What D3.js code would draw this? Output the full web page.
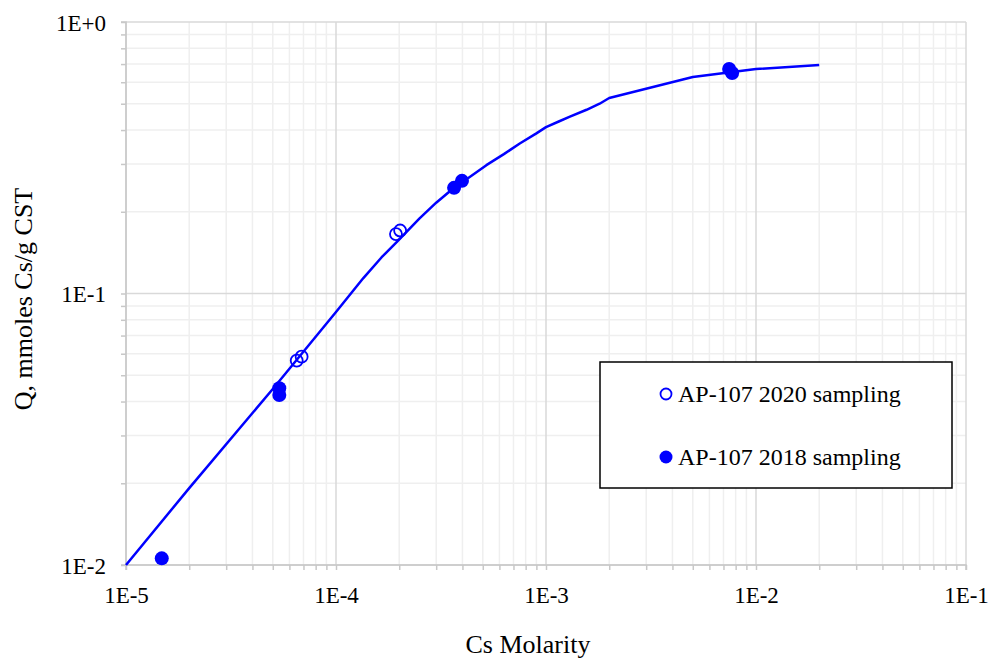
<!DOCTYPE html>
<html><head><meta charset="utf-8">
<script src="https://cdn.jsdelivr.net/npm/d3@7"></script>
<style>body{margin:0;background:#fff}svg{display:block}</style>
</head><body>
<script>
// Data
const curveX = [1e-5, 2e-5, 5e-5, 1e-4, 1.35e-4, 1.65e-4, 1.95e-4, 2.5e-4, 3e-4, 3.6e-4, 4.35e-4, 5.2e-4, 6.3e-4, 7.5e-4, 9e-4, 1e-3, 1.15e-3, 1.3e-3, 1.56e-3, 1.8e-3, 2e-3, 5e-3, 1e-2, 2e-2];
const curveY = [0.01, 0.0192, 0.0445, 0.0855, 0.114, 0.136, 0.155, 0.189, 0.216, 0.243, 0.269, 0.297, 0.326, 0.357, 0.389, 0.41, 0.43, 0.448, 0.475, 0.5, 0.525, 0.627, 0.671, 0.695];
const open2020X = [6.5e-5, 6.86e-5, 1.93e-4, 2.02e-4];
const open2020Y = [0.0566, 0.0585, 0.1656, 0.1706];
const filled2018X = [1.48e-5, 5.37e-5, 5.37e-5, 3.65e-4, 3.98e-4, 7.45e-3, 7.7e-3];
const filled2018Y = [0.01058, 0.0448, 0.0423, 0.245, 0.26, 0.671, 0.649];
const xTickVals = [1e-5, 1e-4, 1e-3, 1e-2, 1e-1];
const xTickLabels = ["1E-5", "1E-4", "1E-3", "1E-2", "1E-1"];
const yTickVals = [1e-2, 1e-1, 1];
const yTickLabels = ["1E-2", "1E-1", "1E+0"];
const legendLabels = ["AP-107 2020 sampling", "AP-107 2018 sampling"];
const xTitle = "Cs Molarity";
const yTitle = "Q, mmoles Cs/g CST";

const W = 991, H = 658;
const L = 126, R = 966, T = 22, B = 565;
const font = "'Liberation Serif', 'Times New Roman', serif";
const blue = "#0000ff";

const svg = d3.select("body").append("svg").attr("width", W).attr("height", H);
const x = d3.scaleLog().domain([1e-5, 1e-1]).range([L, R]);
const y = d3.scaleLog().domain([1e-2, 1]).range([B, T]);

// minor values
const minorX = [], minorY = [];
for (let e = -5; e < -1; e++) for (let k = 2; k <= 9; k++) minorX.push(k * Math.pow(10, e));
for (let e = -2; e < 0; e++) for (let k = 2; k <= 9; k++) minorY.push(k * Math.pow(10, e));

const g = svg.append("g");
// minor grid
g.selectAll(".mgx").data(minorX).enter().append("line")
  .attr("x1", d => x(d)).attr("x2", d => x(d)).attr("y1", T).attr("y2", B)
  .attr("stroke", "#efefef").attr("stroke-width", 1.5);
g.selectAll(".mgy").data(minorY).enter().append("line")
  .attr("y1", d => y(d)).attr("y2", d => y(d)).attr("x1", L).attr("x2", R)
  .attr("stroke", "#efefef").attr("stroke-width", 1.5);
// major grid
g.selectAll(".Mgx").data(xTickVals).enter().append("line")
  .attr("x1", d => x(d)).attr("x2", d => x(d)).attr("y1", T).attr("y2", B)
  .attr("stroke", "#d9d9d9").attr("stroke-width", 1.5);
g.selectAll(".Mgy").data(yTickVals).enter().append("line")
  .attr("y1", d => y(d)).attr("y2", d => y(d)).attr("x1", L).attr("x2", R)
  .attr("stroke", "#d9d9d9").attr("stroke-width", 1.5);

// axes
const xAxis = d3.axisBottom(x).tickValues(xTickVals.concat(minorX)).tickSize(5)
  .tickFormat(d => { const i = xTickVals.indexOf(d); return i >= 0 ? xTickLabels[i] : ""; });
const yAxis = d3.axisLeft(y).tickValues(yTickVals.concat(minorY)).tickSize(5)
  .tickFormat(d => { const i = yTickVals.indexOf(d); return i >= 0 ? yTickLabels[i] : ""; });
const gx = svg.append("g").attr("transform", `translate(0,${B})`).call(xAxis);
const gy = svg.append("g").attr("transform", `translate(${L},0)`).call(yAxis);
[gx, gy].forEach(a => {
  a.select(".domain").attr("stroke", "#c8c8c8").attr("stroke-width", 1.5);
  a.selectAll(".tick line").attr("stroke", "#c8c8c8").attr("stroke-width", 1.5);
  a.selectAll(".tick text").attr("font-family", font).attr("font-size", 23).attr("fill", "#000");
});
gx.select(".domain").attr("d", `M${L},5V0H${R}V5`);
gy.select(".domain").attr("d", `M-5,${T}H0V${B}H-5`);
gx.selectAll(".tick text").attr("y", 22).attr("dy", "0.71em");
gy.selectAll(".tick text").attr("x", -20).attr("dy", "0.35em");

// curve
const curveData = curveX.map((v, i) => [v, curveY[i]]);
svg.append("path").datum(curveData)
  .attr("d", d3.line().x(d => x(d[0])).y(d => y(d[1])))
  .attr("fill", "none").attr("stroke", blue).attr("stroke-width", 2.5)
  .attr("stroke-linejoin", "round");

// points
svg.selectAll(".open").data(open2020X.map((v, i) => [v, open2020Y[i]])).enter().append("circle")
  .attr("cx", d => x(d[0])).attr("cy", d => y(d[1])).attr("r", 6)
  .attr("fill", "none").attr("stroke", blue).attr("stroke-width", 1.8);
svg.selectAll(".filled").data(filled2018X.map((v, i) => [v, filled2018Y[i]])).enter().append("circle")
  .attr("cx", d => x(d[0])).attr("cy", d => y(d[1])).attr("r", 7)
  .attr("fill", blue);

// legend
const lg = svg.append("g");
lg.append("rect").attr("x", 600).attr("y", 362).attr("width", 352).attr("height", 126)
  .attr("fill", "#fff").attr("stroke", "#000").attr("stroke-width", 1.5);
lg.append("circle").attr("cx", 666).attr("cy", 394).attr("r", 5.5)
  .attr("fill", "none").attr("stroke", blue).attr("stroke-width", 1.8);
lg.append("circle").attr("cx", 666).attr("cy", 457).attr("r", 6.5).attr("fill", blue);
lg.selectAll("text").data(legendLabels).enter().append("text")
  .attr("x", 678).attr("y", (d, i) => i === 0 ? 402 : 465)
  .attr("font-family", font).attr("font-size", 24).attr("fill", "#000").text(d => d);

// titles
svg.append("text").attr("x", (L + R) / 2 - 18).attr("y", 653).attr("text-anchor", "middle")
  .attr("font-family", font).attr("font-size", 26).attr("fill", "#000").text(xTitle);
svg.append("text").attr("transform", `translate(32,299) rotate(-90)`).attr("text-anchor", "middle")
  .attr("font-family", font).attr("font-size", 26).attr("fill", "#000").text(yTitle);
</script>
</body></html>
